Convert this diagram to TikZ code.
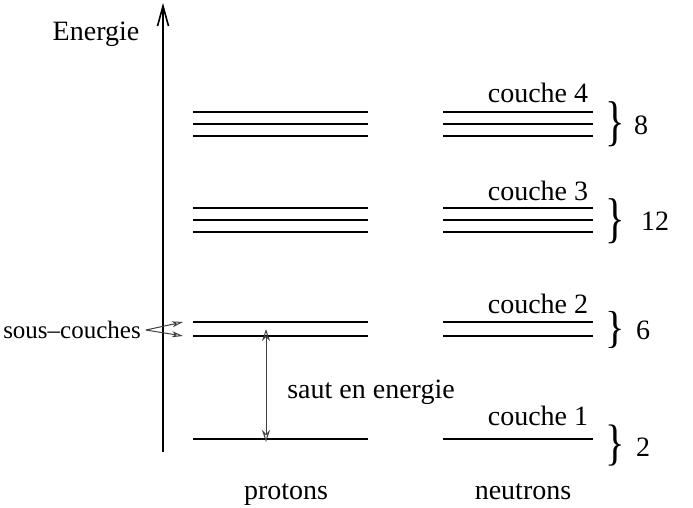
\documentclass[tikz,border=0pt]{standalone}
\usepackage{fontspec}
\setmainfont{Liberation Serif}
\usetikzlibrary{
    arrows.meta,
    positioning
}

\tikzset{
    level/.style={line width=2.7pt},
    thinarrow/.style={line width=1pt, draw=black!75},
    lbl/.style={font=\fontsize{28}{32}\selectfont, inner sep=0pt},
    small/.style={font=\fontsize{25}{30}\selectfont, inner sep=0pt},
    brace/.style={font=\fontsize{28}{32}\selectfont, inner sep=0pt}
}

\begin{document}
\begin{tikzpicture}[x=1pt, y=-1pt]
    \useasboundingbox (0,0) rectangle (693,507);
    % energy axis
    \draw[line width=1.6pt, -{Straight Barb[length=20pt,width=11pt]}] (163,452) -- (163,3);
    \node[lbl] (energie) at (96,34) {Energie};
    % levels, protons on the left, neutrons on the right
    \foreach \y in {112,124,136,208,220,232,322,336,439} {
        \draw[level] (193,\y) -- (368,\y);
        \draw[level] (443,\y) -- (593,\y);
    }
    \coordinate (p2a) at (193,322);
    \coordinate (p2b) at (193,336);
    \coordinate (s2) at (266,336);
    \coordinate (s1) at (266,439);
    % shell labels
    \node[lbl] (couche4) at (538,93) {couche 4};
    \node[lbl] (couche3) at (538,191) {couche 3};
    \node[lbl] (couche2) at (538,304) {couche 2};
    \node[lbl] (couche1) at (538,416) {couche 1};
    % braces with number of states
    \node[brace] (b4) at (615,124) {\scalebox{1.45}[1.95]{\}}};
    \node[brace] (b3) at (615,221) {\scalebox{1.45}[1.95]{\}}};
    \node[brace] (b2) at (615,330) {\scalebox{1.45}[1.6]{\}}};
    \node[brace] (b1) at (615,446) {\scalebox{1.45}[1.78]{\}}};
    \node[lbl] (n4) at (641,125) {8};
    \node[lbl] (n3) at (655,221) {12};
    \node[lbl] (n2) at (643,330) {6};
    \node[lbl] (n1) at (643,447) {2};
    % sub-shells
    \node[small] (souscouches) at (72,330) {sous--couches};
    \draw[thinarrow, -{Stealth[open,length=11pt,width=6pt,inset=3pt]}]
        ([xshift=5pt]souscouches.east) -- ([xshift=-10pt]p2a);
    \draw[thinarrow, -{Stealth[open,length=11pt,width=6pt,inset=3pt]}]
        ([xshift=5pt]souscouches.east) -- ([xshift=-10pt]p2b);
    % energy gap
    \draw[thinarrow, {Stealth[open,length=12pt,width=8pt,inset=4pt]}-{Stealth[open,length=12pt,width=8pt,inset=4pt]}]
        ([yshift=7pt]s2) -- ([yshift=-3pt]s1);
    \node[lbl] (saut) at (371,392) {saut en energie};
    % particle names
    \node[lbl, anchor=base] (protons) at (286,499) {protons};
    \node[lbl, anchor=base] (neutrons) at (523,499) {neutrons};
\end{tikzpicture}
\end{document}
